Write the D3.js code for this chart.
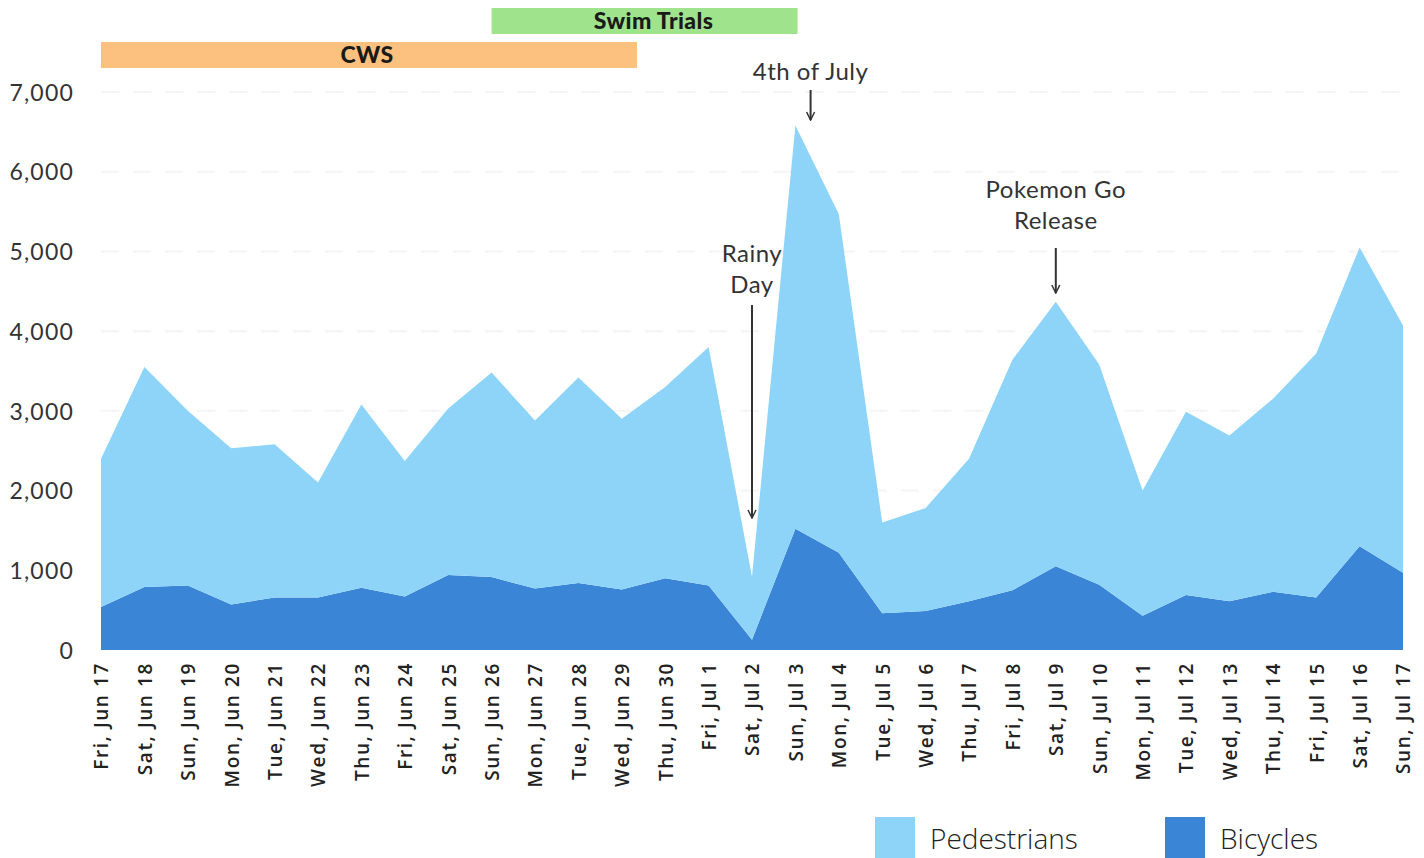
<!DOCTYPE html>
<html>
<head>
<meta charset="utf-8">
<script src="https://cdn.jsdelivr.net/npm/d3@7"></script>
<style>
  body { margin: 0; background: #fff; }
  svg { display: block; }
</style>
</head>
<body>
<div id="chart"></div>
<script>
var width = 1424
var height = 858

var days = ["Fri, Jun 17", "Sat, Jun 18", "Sun, Jun 19", "Mon, Jun 20", "Tue, Jun 21", "Wed, Jun 22",
  "Thu, Jun 23", "Fri, Jun 24", "Sat, Jun 25", "Sun, Jun 26", "Mon, Jun 27", "Tue, Jun 28",
  "Wed, Jun 29", "Thu, Jun 30", "Fri, Jul 1", "Sat, Jul 2", "Sun, Jul 3", "Mon, Jul 4",
  "Tue, Jul 5", "Wed, Jul 6", "Thu, Jul 7", "Fri, Jul 8", "Sat, Jul 9", "Sun, Jul 10",
  "Mon, Jul 11", "Tue, Jul 12", "Wed, Jul 13", "Thu, Jul 14", "Fri, Jul 15", "Sat, Jul 16", "Sun, Jul 17"];

var bicycles = [540, 790, 810, 570, 660, 660, 780, 670, 940, 915, 770, 840, 760, 900, 810, 130,
  1520, 1220, 460, 490, 610, 750, 1050, 820, 430, 690, 610, 730, 660, 1300, 970];

var pedestrians = [1860, 2760, 2190, 1960, 1920, 1440, 2300, 1700, 2090, 2565, 2110, 2580, 2140, 2400,
  2990, 790, 5060, 4250, 1140, 1290, 1790, 2890, 3320, 2760, 1570, 2300, 2080, 2420, 3060, 3750, 3100];

var yTicks = [0, 1000, 2000, 3000, 4000, 5000, 6000, 7000];

// event bars: start / end in day positions
var events = [
  {label: "Swim Trials", start: 9, end: 16.05, row: 0, color: "#9fe38d"},
  {label: "CWS", start: 0, end: 12.35, row: 1, color: "#fdc17f"}
];

var notes = [
  {lines: ["4th of July"], day: 16.35, textY: 80, from: 90, to: 120},
  {lines: ["Rainy", "Day"], day: 15, textY: 262, from: 305, to: 518},
  {lines: ["Pokemon Go", "Release"], day: 22, textY: 198, from: 248, to: 293}
];

var seriesNames = ["Bicycles", "Pedestrians"];
var colors = {Pedestrians: "#8dd4f8", Bicycles: "#3a85d6"};

var margin = {left: 101, right: 21, top: 92, bottom: 208}

var svg = d3.select("#chart").append("svg")
  .attr("width", width)
  .attr("height", height);

var x = d3.scaleLinear()
  .domain([0, days.length - 1])
  .range([margin.left, width - margin.right]);

var y = d3.scaleLinear()
  .domain([0, 7000])
  .range([height - margin.bottom, margin.top]);

var table = days.map(function(d, i) {
  return {i: i, Bicycles: bicycles[i], Pedestrians: pedestrians[i]};
});

var stacked = d3.stack().keys(seriesNames)(table);

// gridlines (barely visible)
svg.append("g")
  .selectAll("line")
  .data(yTicks.slice(1))
  .enter().append("line")
  .attr("x1", x(0))
  .attr("x2", x(days.length - 1) + 8)
  .attr("y1", function(d) { return y(d); })
  .attr("y2", function(d) { return y(d); })
  .attr("stroke", "#f5f5f5")
  .attr("stroke-width", 2)
  .attr("stroke-dasharray", "18,14");

var area = d3.area()
  .x(function(d) { return x(d.data.i); })
  .y0(function(d) { return y(d[0]); })
  .y1(function(d) { return y(d[1]); });

svg.append("g")
  .selectAll("path")
  .data(stacked)
  .enter().append("path")
  .attr("d", area)
  .attr("fill", function(d) { return colors[d.key]; });

// y axis
var yAxis = svg.append("g")
  .attr("transform", "translate(" + (margin.left - 27) + ",0)")
  .call(d3.axisLeft(y).tickValues(yTicks).tickFormat(d3.format(",")).tickSize(0).tickPadding(0));
yAxis.select(".domain").remove();
yAxis.selectAll("text")
  .attr("font-family", "Lato, 'Noto Sans', sans-serif")
  .attr("font-size", 23)
  .attr("letter-spacing", 1.2)
  .attr("fill", "#333")
  .attr("dy", "0.36em");

// x axis
var xAxis = svg.append("g")
  .attr("transform", "translate(0," + (height - margin.bottom + 12) + ")")
  .call(d3.axisBottom(x).tickValues(d3.range(days.length)).tickFormat(function(i) { return days[i]; }).tickSize(0).tickPadding(0));
xAxis.select(".domain").remove();
xAxis.selectAll("text")
  .attr("font-family", "'Open Sans', sans-serif")
  .attr("font-size", 19)
  .attr("font-weight", 600)
  .attr("letter-spacing", 1.6)
  .attr("fill", "#222")
  .attr("text-anchor", "end")
  .attr("transform", "rotate(-90)")
  .attr("x", 0)
  .attr("y", 0)
  .attr("dy", "0.36em");

// event bars on top
var bars = svg.append("g");
bars.selectAll("rect")
  .data(events)
  .enter().append("rect")
  .attr("x", function(d) { return x(d.start); })
  .attr("width", function(d) { return x(d.end) - x(d.start); })
  .attr("y", function(d) { return 8 + d.row * 34; })
  .attr("height", 26)
  .attr("fill", function(d) { return d.color; });
bars.selectAll("text")
  .data(events)
  .enter().append("text")
  .attr("x", function(d) { return (x(d.start) + x(d.end)) / 2 + (d.row == 0 ? 9 : -2); })
  .attr("y", function(d) { return 29 + d.row * 34; })
  .attr("text-anchor", "middle")
  .attr("font-family", "Lato, sans-serif")
  .attr("font-weight", 900)
  .attr("font-size", 23)
  .attr("letter-spacing", 0.4)
  .attr("fill", "#1a1a1a")
  .text(function(d) { return d.label; });

// annotations
svg.append("defs").append("marker")
  .attr("id", "arrow")
  .attr("viewBox", "0 0 10 10")
  .attr("refX", 9).attr("refY", 5)
  .attr("markerWidth", 10).attr("markerHeight", 10)
  .attr("markerUnits", "userSpaceOnUse")
  .attr("orient", "auto")
  .append("path")
  .attr("d", "M1,1 L9,5 L1,9")
  .attr("fill", "none")
  .attr("stroke", "#333")
  .attr("stroke-width", 1.5);

var note = svg.append("g").selectAll("g")
  .data(notes)
  .enter().append("g");

note.each(function(d) {
  var g = d3.select(this);
  d.lines.forEach(function(t, k) {
    g.append("text")
      .attr("x", x(d.day))
      .attr("y", d.textY + k * 31)
      .attr("text-anchor", "middle")
      .attr("font-family", "Lato, sans-serif")
      .attr("font-size", 24)
      .attr("letter-spacing", 0.5)
      .attr("fill", "#333")
      .text(t);
  });
  g.append("line")
    .attr("x1", x(d.day)).attr("x2", x(d.day))
    .attr("y1", d.from).attr("y2", d.to)
    .attr("stroke", "#333")
    .attr("stroke-width", 2)
    .attr("marker-end", "url(#arrow)");
});

// legend
var legend = svg.append("g")
  .selectAll("g")
  .data(["Pedestrians", "Bicycles"])
  .enter().append("g")
  .attr("transform", function(d, i) { return "translate(" + (875 + i * 290) + ",817)"; });
legend.append("rect")
  .attr("width", 40).attr("height", 41)
  .attr("fill", function(d) { return colors[d]; });
legend.append("text")
  .attr("x", 55).attr("y", 32)
  .attr("font-family", "'Open Sans', sans-serif")
  .attr("font-weight", 300)
  .attr("font-size", 28)
  .attr("fill", "#222")
  .text(function(d) { return d; });
</script>
</body>
</html>
